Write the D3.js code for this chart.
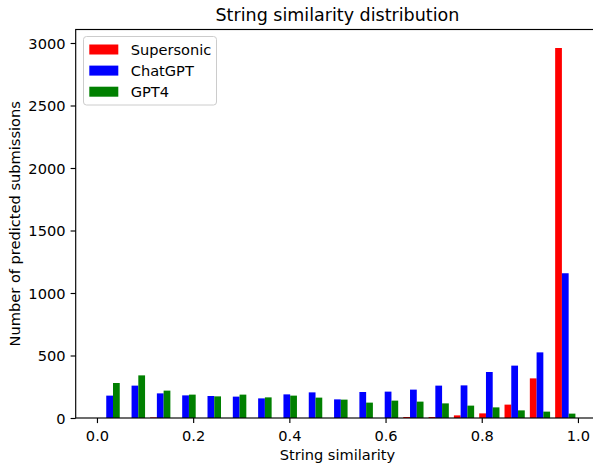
<!DOCTYPE html>
<html>
<head>
<meta charset="utf-8">
<script src="https://cdn.jsdelivr.net/npm/d3@7"></script>
<style>
  html, body { margin: 0; padding: 0; background: #fff; }
  svg { display: block; }
  text { font-family: "DejaVu Sans", sans-serif; fill: #000; }
</style>
</head>
<body>
<div id="chart"></div>
<script>
// 19 bins from 0 to 1
const binEdges = d3.range(20).map(i => i / 19);
const seriesNames = ["Supersonic", "ChatGPT", "GPT4"];
const seriesColors = ["#ff0000", "#0000ff", "#008000"];
const supersonic = [0, 0, 5, 0, 0, 0, 0, 0, 0, 0, 0, 0, 8, 8, 21, 37, 107, 317, 2960];
const chatgpt    = [179, 259, 197, 181, 176, 171, 157, 189, 205, 149, 208, 211, 227, 259, 261, 368, 419, 525, 1158];
const gpt4       = [280, 341, 219, 187, 173, 187, 165, 179, 163, 147, 123, 139, 131, 117, 99, 85, 61, 51, 35];
const xTicks = [0.0, 0.2, 0.4, 0.6, 0.8, 1.0];
const yTicks = [0, 500, 1000, 1500, 2000, 2500, 3000];

const W = 593, H = 466;
const plot = { left: 75.7, right: 599.2, top: 29.5, bottom: 418 };
const FS = 14.6, TFS = 17.5;

const series = [supersonic, chatgpt, gpt4];
const nS = series.length;
const binW = binEdges[1] - binEdges[0];
const barW = 0.8 * binW / nS;
const off0 = 0.1 * binW;

const dataMin = binEdges[0] + off0;
const dataMax = binEdges[binEdges.length - 2] + off0 + nS * barW;
const marg = 0.05 * (dataMax - dataMin);
const x = d3.scaleLinear().domain([dataMin - marg, dataMax + marg]).range([plot.left, plot.right]);
const yMax = d3.max(series.flat()) * 1.05;
const y = d3.scaleLinear().domain([0, yMax]).range([plot.bottom, plot.top]);

const svg = d3.select("#chart").append("svg").attr("width", W).attr("height", H);

// bars
series.forEach((vals, si) => {
  svg.append("g").selectAll("rect").data(vals).join("rect")
    .attr("x", (d, i) => x(binEdges[i] + off0 + si * barW))
    .attr("width", (d, i) => x(binEdges[i] + off0 + (si + 1) * barW) - x(binEdges[i] + off0 + si * barW))
    .attr("y", d => y(d))
    .attr("height", d => y(0) - y(d))
    .attr("fill", seriesColors[si]);
});

// spines
svg.append("rect").attr("x", plot.left).attr("y", plot.top)
  .attr("width", plot.right - plot.left).attr("height", plot.bottom - plot.top)
  .attr("fill", "none").attr("stroke", "#000").attr("stroke-width", 1.15);

// x axis
const xAxis = d3.axisBottom(x).tickValues(xTicks).tickFormat(d3.format(".1f")).tickSize(5.1).tickPadding(5.1);
const gx = svg.append("g").attr("transform", `translate(0,${plot.bottom})`).call(xAxis);
gx.select(".domain").remove();
gx.selectAll("line").attr("stroke", "#000").attr("stroke-width", 1.15);
gx.selectAll("text").attr("font-size", FS + "px").attr("font-family", "DejaVu Sans").attr("dy", 0).attr("y", 22.5);

// y axis
const yAxis = d3.axisLeft(y).tickValues(yTicks).tickFormat(d3.format("d")).tickSize(5.1).tickPadding(5.1);
const gy = svg.append("g").attr("transform", `translate(${plot.left},0)`).call(yAxis);
gy.select(".domain").remove();
gy.selectAll("line").attr("stroke", "#000").attr("stroke-width", 1.15);
gy.selectAll("text").attr("font-size", FS + "px").attr("font-family", "DejaVu Sans").attr("dy", "0.36em");

// title
svg.append("text").attr("x", (plot.left + plot.right) / 2).attr("y", 21)
  .attr("text-anchor", "middle").attr("font-size", TFS + "px").text("String similarity distribution");

// x label
svg.append("text").attr("x", (plot.left + plot.right) / 2).attr("y", 460)
  .attr("text-anchor", "middle").attr("font-size", FS + "px").text("String similarity");

// y label
svg.append("text").attr("transform", `translate(20,${(plot.top + plot.bottom) / 2}) rotate(-90)`)
  .attr("text-anchor", "middle").attr("font-size", FS + "px").text("Number of predicted submissions");

// legend
const lg = svg.append("g");
lg.append("rect").attr("x", 83.5).attr("y", 36.5).attr("width", 133).attr("height", 68.5)
  .attr("rx", 3).attr("fill", "#fff").attr("fill-opacity", 0.8).attr("stroke", "#cccccc").attr("stroke-width", 1);
seriesNames.forEach((name, i) => {
  const cy = 49.5 + i * 21.1;
  lg.append("rect").attr("x", 89.3).attr("y", cy - 5).attr("width", 29).attr("height", 10).attr("fill", seriesColors[i]);
  lg.append("text").attr("x", 130.7).attr("y", cy).attr("dy", "0.36em").attr("font-size", FS + "px").text(name);
});
</script>
</body>
</html>
